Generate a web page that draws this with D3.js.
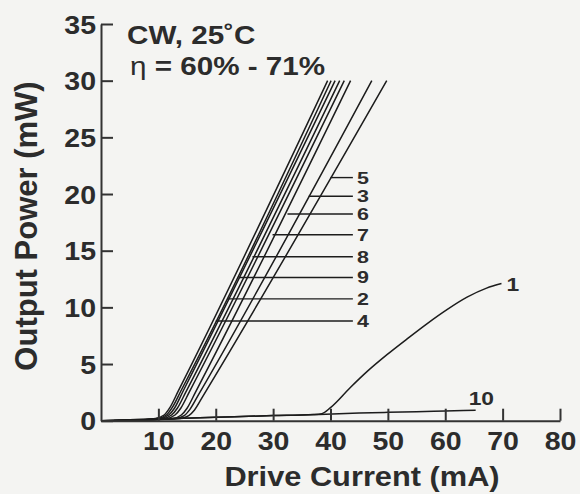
<!DOCTYPE html>
<html>
<head>
<meta charset="utf-8">
<script src="https://cdn.jsdelivr.net/npm/d3@7"></script>
<style>
  body { margin: 0; background: #f4f4f2; }
  svg { display: block; }
  text { font-family: "Liberation Sans", Arial, sans-serif; font-weight: bold; fill: #2c2c2c; }
</style>
</head>
<body>
<svg class="chart" width="580" height="494"></svg>
<script>
// tick values
const xTicks = [10, 20, 30, 40, 50, 60, 70, 80];
const yTicks = [0, 5, 10, 15, 20, 25, 30, 35];

// L-I curves, [drive current mA, output power mW]
const curve9 = [[0,0],[6,0.05],[9.5,0.2],[11,0.5],[12,1.15],[13.5,2.65],[39.5,30]];
const curve2 = [[0,0],[6,0.05],[9.9,0.2],[11.4,0.5],[12.4,1.15],[13.9,2.6],[40.1,30]];
const curve4 = [[0,0],[6,0.05],[10.3,0.2],[11.8,0.5],[12.8,1.1],[14.3,2.6],[40.8,30]];
const curve8 = [[0,0],[6,0.05],[10.8,0.2],[12.3,0.5],[13.3,1.1],[14.8,2.55],[41.6,30]];
const curve7 = [[0,0],[6,0.05],[11.4,0.2],[12.9,0.5],[13.9,1.1],[15.4,2.55],[42.4,30]];
const curve6 = [[0,0],[6,0.05],[12.5,0.2],[14,0.5],[15,1.1],[16.5,2.55],[43.5,30]];
const curve3 = [[0,0],[6,0.05],[13,0.2],[14.5,0.45],[15.5,1.0],[17,2.3],[47.2,30]];
const curve5 = [[0,0],[6,0.05],[13.8,0.2],[15.3,0.45],[16.3,0.95],[17.8,2.2],[49.8,30]];
const curve1 = [[0,0],[10,0.15],[20,0.3],[30,0.45],[37,0.55],[38.5,0.62],[40,1.15],[43.5,2.95],
  [46.4,4.35],[49.9,5.85],[53.3,7.2],[56.8,8.55],[60.3,9.8],[63.8,10.9],[67.2,11.7],[69.8,12.1]];
const curve10 = [[0,0],[10,0.15],[20,0.3],[30,0.45],[38,0.55],[45,0.68],[50,0.74],[55,0.8],[60,0.86],[65.3,0.93]];

// leader lines for the labels on the right of the bundle
const leaderLabels = ["5", "3", "6", "7", "8", "9", "2", "4"];
const leaderPower = [21.45, 19.8, 18.24, 16.4, 14.46, 12.64, 10.75, 8.8];
const leaderStart = [40.0, 36.2, 32.5, 29.9, 26.4, 24.0, 22.0, 20.0];
const leaderEnd = 43.9;

const curves = [curve9, curve2, curve4, curve8, curve7, curve6, curve3, curve5, curve1, curve10];

let svg = d3.select(".chart");
const sx = 1.14; // the scanned lettering is a bit wider than Arial

let x = d3.scaleLinear().domain([0, 80]).range([101, 560]);
let y = d3.scaleLinear().domain([0, 35]).range([420.7, 24]);

function addText(g, px, py, str, size, anchor, stretch) {
  return g.append("text")
    .attr("transform", "translate(" + px + "," + py + ") scale(" + (stretch || sx) + ",1)")
    .attr("text-anchor", anchor)
    .style("font-size", size + "px")
    .text(str);
}

// curves
let line = d3.line()
  .x(function(d) { return x(d[0]); })
  .y(function(d) { return y(d[1]); })
  .curve(d3.curveMonotoneX);

svg.selectAll(".curve")
  .data(curves)
  .enter().append("path")
  .attr("class", "curve")
  .attr("d", line)
  .style("fill", "none")
  .style("stroke", "#1c1c1c")
  .style("stroke-width", 1.5);

// leaders
svg.selectAll(".leader")
  .data(leaderLabels)
  .enter().append("line")
  .attr("class", "leader")
  .attr("x1", function(d, i) { return x(leaderStart[i]); })
  .attr("x2", x(leaderEnd))
  .attr("y1", function(d, i) { return y(leaderPower[i]); })
  .attr("y2", function(d, i) { return y(leaderPower[i]); })
  .style("stroke", "#1c1c1c")
  .style("stroke-width", 1.4);

leaderLabels.forEach(function(d, i) {
  addText(svg, x(leaderEnd) + 4, y(leaderPower[i]) + 6, d, 16.5, "start", 1.3);
});

addText(svg, x(curve1[curve1.length - 1][0]) + 5, y(curve1[curve1.length - 1][1]) + 7, "1", 19, "start", 1.2);
addText(svg, x(curve10[curve10.length - 1][0]) - 7, y(curve10[curve10.length - 1][1]) - 5, "10", 19, "start", 1.2);

// axes
let xAxis = svg.append("g")
  .attr("transform", "translate(0," + y(0) + ")")
  .call(d3.axisBottom(x).tickValues(xTicks).tickSizeInner(-12).tickSizeOuter(0));
xAxis.selectAll("text")
  .attr("y", 0).attr("dy", 0)
  .attr("transform", "translate(0,29) scale(" + sx + ",1)")
  .style("font-size", "25px");

let yAxis = svg.append("g")
  .attr("transform", "translate(" + x(0) + ",0)")
  .call(d3.axisLeft(y).tickValues(yTicks).tickSizeInner(-12).tickSizeOuter(0));
yAxis.selectAll("text")
  .attr("x", 0).attr("dy", "0.36em")
  .attr("transform", "translate(-5,0) scale(" + sx + ",1)")
  .style("font-size", "25px");

svg.selectAll(".domain, .tick line")
  .style("stroke", "#333")
  .style("stroke-width", 2);
svg.selectAll(".tick text").style("fill", "#2c2c2c").attr("font-family", null);

// titles
addText(svg, 127, 43.5, "CW, 25˚C", 26, "start");
let eta = addText(svg, 130, 75, "", 26, "start");
eta.append("tspan").style("font-weight", "normal").text("η");
eta.append("tspan").text(" = 60% - 71%");

addText(svg, 362, 486, "Drive Current (mA)", 27, "middle");

svg.append("text")
  .attr("transform", "translate(37,226) rotate(-90)")
  .attr("text-anchor", "middle")
  .style("font-size", "31px")
  .text("Output Power (mW)");
</script>
</body>
</html>
